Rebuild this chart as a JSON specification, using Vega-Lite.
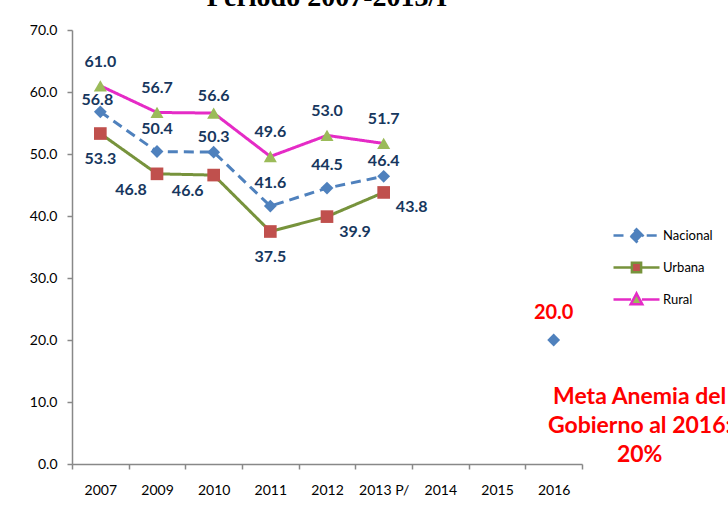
{
  "$schema": "https://vega.github.io/schema/vega-lite/v6.json",
  "width": 510,
  "height": 434,
  "autosize": {"type": "none"},
  "padding": {"left": 72, "top": 30, "right": 146, "bottom": 48},
  "background": "white",
  "title": {"text": "Periodo 2007-2013/I", "font": "Liberation Serif", "fontSize": 28, "fontWeight": "bold", "color": "#000000", "anchor": "middle", "baseline": "bottom", "offset": 0, "dy": 16.5},
  "config": {"view": {"stroke": null}, "font": "Lato"},
  "data": {"values": [
    {"year": "2007", "serie": "Nacional", "valor": 56.8},
    {"year": "2009", "serie": "Nacional", "valor": 50.4},
    {"year": "2010", "serie": "Nacional", "valor": 50.3},
    {"year": "2011", "serie": "Nacional", "valor": 41.6},
    {"year": "2012", "serie": "Nacional", "valor": 44.5},
    {"year": "2013 P/", "serie": "Nacional", "valor": 46.4},
    {"year": "2016", "serie": "Nacional", "valor": 20.0},
    {"year": "2007", "serie": "Urbana", "valor": 53.3},
    {"year": "2009", "serie": "Urbana", "valor": 46.8},
    {"year": "2010", "serie": "Urbana", "valor": 46.6},
    {"year": "2011", "serie": "Urbana", "valor": 37.5},
    {"year": "2012", "serie": "Urbana", "valor": 39.9},
    {"year": "2013 P/", "serie": "Urbana", "valor": 43.8},
    {"year": "2007", "serie": "Rural", "valor": 61.0},
    {"year": "2009", "serie": "Rural", "valor": 56.7},
    {"year": "2010", "serie": "Rural", "valor": 56.6},
    {"year": "2011", "serie": "Rural", "valor": 49.6},
    {"year": "2012", "serie": "Rural", "valor": 53.0},
    {"year": "2013 P/", "serie": "Rural", "valor": 51.7}
  ]},
  "encoding": {
    "x": {"field": "year", "type": "ordinal",
      "scale": {"domain": ["2007", "2009", "2010", "2011", "2012", "2013 P/", "2014", "2015", "2016"], "paddingInner": 0, "paddingOuter": 0},
      "axis": {"title": null, "labelAngle": 0, "domainColor": "#888888", "domainWidth": 1.5, "tickColor": "#888888", "tickWidth": 1.5, "tickSize": 5, "tickBand": "extent", "labelPadding": 14, "labelFont": "Lato", "labelFontSize": 14, "labelColor": "#000000", "grid": false}},
    "y": {"field": "valor", "type": "quantitative",
      "scale": {"domain": [0, 70], "nice": false},
      "axis": {"title": null, "values": [0, 10, 20, 30, 40, 50, 60, 70], "format": ".1f", "domainColor": "#888888", "domainWidth": 1.5, "tickColor": "#888888", "tickWidth": 1.5, "tickSize": 5, "labelPadding": 10, "labelFont": "Lato", "labelFontSize": 14, "labelColor": "#000000", "grid": false}}
  },
  "layer": [
    {
      "transform": [{"filter": "datum.year !== '2016'"}],
      "mark": {"type": "line", "strokeWidth": 3},
      "encoding": {
        "stroke": {"field": "serie", "type": "nominal",
          "scale": {"domain": ["Nacional", "Urbana", "Rural"], "range": ["#4F81BD", "#77933C", "#E52BC6"]},
          "legend": {"title": null, "orient": "none", "legendX": 540, "legendY": 196, "symbolSize": 256, "symbolStrokeWidth": 2.5, "labelFont": "Lato", "labelFontSize": 13, "labelFontWeight": "normal", "labelColor": "#000000", "labelOffset": 32, "rowPadding": 10,
            "encode": {"symbols": {"update": {
              "shape": {"signal": "datum.value === 'Nacional' ? 'M-1,0H0.6M3.15,0H4.75M1.875,-0.78L2.65,0L1.875,0.78L1.1,0Z' : datum.value === 'Urbana' ? 'M-1,0H1.25M2.5,0H4.75M1.3,-0.58H2.45V0.58H1.3Z' : 'M-1,0H1.2M2.55,0H4.75M1.875,-0.75L2.6,0.6H1.15Z'"},
              "fill": {"signal": "datum.value === 'Nacional' ? '#4F81BD' : datum.value === 'Urbana' ? '#C0504D' : '#9BBB59'"}
            }}}}},
        "strokeDash": {"field": "serie", "type": "nominal",
          "scale": {"domain": ["Nacional", "Urbana", "Rural"], "range": [[10, 6], [1, 0], [1, 0]]},
          "legend": null}
      }
    },
    {
      "transform": [{"filter": "datum.serie === 'Nacional'"}],
      "mark": {"type": "point", "filled": true, "shape": "diamond", "size": 165, "opacity": 1, "strokeWidth": 0, "fill": "#4F81BD"}
    },
    {
      "transform": [{"filter": "datum.serie === 'Urbana'"}],
      "mark": {"type": "point", "filled": true, "shape": "square", "size": 160, "opacity": 1, "strokeWidth": 0, "fill": "#C0504D"}
    },
    {
      "transform": [{"filter": "datum.serie === 'Rural'"}],
      "mark": {"type": "point", "filled": true, "shape": "triangle-up", "size": 170, "opacity": 1, "strokeWidth": 0, "fill": "#9BBB59"}
    },
    {
      "transform": [{"filter": "datum.serie === 'Rural' && datum.year !== '2010'"}],
      "mark": {"type": "text", "dy": -24, "fontSize": 16, "fontWeight": "bold", "color": "#17375E", "font": "Lato"},
      "encoding": {"text": {"field": "valor", "type": "quantitative", "format": ".1f"}}
    },
    {
      "transform": [{"filter": "datum.serie === 'Rural' && datum.year === '2010'"}],
      "mark": {"type": "text", "dy": -17, "fontSize": 16, "fontWeight": "bold", "color": "#17375E", "font": "Lato"},
      "encoding": {"text": {"field": "valor", "type": "quantitative", "format": ".1f"}}
    },
    {
      "transform": [{"filter": "datum.serie === 'Nacional' && datum.year === '2007'"}],
      "mark": {"type": "text", "dy": -12, "dx": -3, "fontSize": 16, "fontWeight": "bold", "color": "#17375E", "font": "Lato"},
      "encoding": {"text": {"field": "valor", "type": "quantitative", "format": ".1f"}}
    },
    {
      "transform": [{"filter": "datum.serie === 'Nacional' && (datum.year === '2009' || datum.year === '2011' || datum.year === '2012')"}],
      "mark": {"type": "text", "dy": -23, "fontSize": 16, "fontWeight": "bold", "color": "#17375E", "font": "Lato"},
      "encoding": {"text": {"field": "valor", "type": "quantitative", "format": ".1f"}}
    },
    {
      "transform": [{"filter": "datum.serie === 'Nacional' && (datum.year === '2010' || datum.year === '2013 P/')"}],
      "mark": {"type": "text", "dy": -15, "fontSize": 16, "fontWeight": "bold", "color": "#17375E", "font": "Lato"},
      "encoding": {"text": {"field": "valor", "type": "quantitative", "format": ".1f"}}
    },
    {
      "transform": [{"filter": "datum.serie === 'Nacional' && datum.year === '2016'"}],
      "mark": {"type": "text", "dy": -27, "fontSize": 20, "fontWeight": "bold", "color": "#FF0000", "font": "Lato"},
      "encoding": {"text": {"field": "valor", "type": "quantitative", "format": ".1f"}}
    },
    {
      "transform": [{"filter": "datum.serie === 'Urbana' && (datum.year === '2007' || datum.year === '2011')"}],
      "mark": {"type": "text", "dy": 25, "fontSize": 16, "fontWeight": "bold", "color": "#17375E", "font": "Lato"},
      "encoding": {"text": {"field": "valor", "type": "quantitative", "format": ".1f"}}
    },
    {
      "transform": [{"filter": "datum.serie === 'Urbana' && (datum.year === '2009' || datum.year === '2010')"}],
      "mark": {"type": "text", "dx": -26, "dy": 16, "fontSize": 16, "fontWeight": "bold", "color": "#17375E", "font": "Lato"},
      "encoding": {"text": {"field": "valor", "type": "quantitative", "format": ".1f"}}
    },
    {
      "transform": [{"filter": "datum.serie === 'Urbana' && (datum.year === '2012' || datum.year === '2013 P/')"}],
      "mark": {"type": "text", "dx": 28, "dy": 15, "fontSize": 16, "fontWeight": "bold", "color": "#17375E", "font": "Lato"},
      "encoding": {"text": {"field": "valor", "type": "quantitative", "format": ".1f"}}
    },
    {
      "data": {"values": [{"year": "2016", "valor": 10.8, "nota": "Meta Anemia del\nGobierno al 2016:\n20%"}]},
      "mark": {"type": "text", "dx": 86, "fontSize": 23, "fontWeight": "bold", "color": "#FF0000", "font": "Lato", "lineBreak": "\n", "lineHeight": 29, "align": "center", "baseline": "middle"},
      "encoding": {"text": {"field": "nota", "type": "nominal"}}
    }
  ]
}
